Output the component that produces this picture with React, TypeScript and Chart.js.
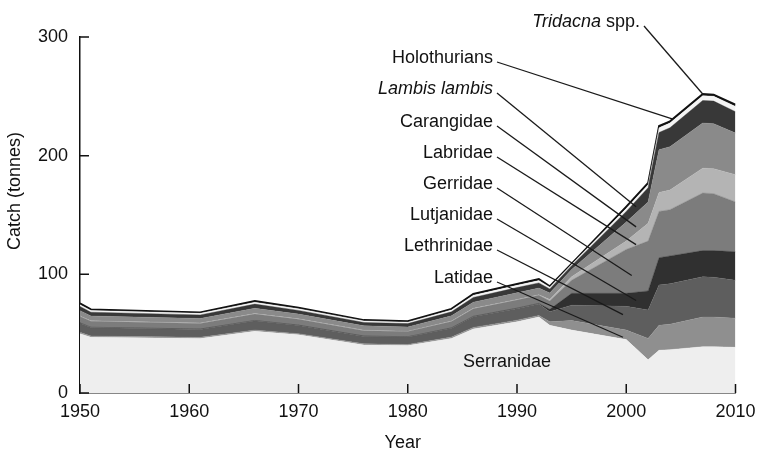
import React, { useEffect, useRef } from 'react';
import { Chart, registerables } from 'chart.js';

Chart.register(...registerables);

// ---- data (tonnes) ----
const years = [1950, 1951, 1961, 1966, 1970, 1976, 1980, 1984, 1986, 1990, 1992, 1993, 1995, 2000, 2002, 2003, 2004, 2007, 2008, 2010];
const serranidae = [50, 47, 46, 52, 49, 40.5, 40, 46, 54, 60, 64, 57, 53, 45, 28, 36, 36.5, 39, 39, 38.5];
const latidae = [1.1, 1, 0.9, 1.1, 1, 0.9, 0.9, 1.1, 1.3, 1.4, 1.4, 3, 8, 8, 18, 21, 21.5, 25, 25, 24.5];
const lethrinidae = [7.7, 7.1, 6.7, 7.7, 6.9, 6.3, 6.2, 7.5, 8.9, 9.7, 9.7, 8.5, 13, 20, 24, 34, 34, 34, 33.5, 32];
const lutjanidae = [0.3, 0.3, 0.3, 0.3, 0.3, 0.3, 0.3, 0.3, 0.4, 0.4, 0.4, 2, 10, 11, 16, 23, 23.5, 22, 22.5, 24];
const gerridae = [5.4, 5, 4.7, 5.4, 4.9, 4.5, 4.4, 5.3, 6.3, 6.8, 6.8, 7, 11, 37, 42, 39, 39, 48.5, 48, 42];
const labridae = [0.4, 0.4, 0.4, 0.4, 0.4, 0.4, 0.3, 0.4, 0.5, 0.5, 0.5, 1.3, 3, 7, 15, 16, 16.5, 21, 21, 23];
const carangidae = [4.5, 4.1, 3.8, 4.5, 4, 3.7, 3.6, 4.4, 5.1, 5.6, 5.6, 5.5, 6, 16, 18, 36, 36.5, 38, 38, 35];
const lambisLambis = [3.5, 3.2, 3, 3.5, 3.1, 2.8, 2.8, 3.4, 4, 4.4, 4.4, 3.4, 3.3, 9, 12, 14.5, 16, 19, 19, 18];
const holothurians = [1.5, 1.4, 1.3, 1.5, 1.4, 1.3, 1.2, 1.5, 1.8, 1.9, 1.9, 1.5, 1.1, 2.5, 2.5, 4, 4, 4, 4, 4.5];
const tridacna = [1.1, 1, 0.9, 1.1, 1, 0.8, 0.8, 1.1, 1.2, 1.3, 1.3, 0.8, 0.6, 1.5, 1.5, 1.5, 1.5, 1.5, 1.5, 1.5];

const seriesNames = ['Serranidae', 'Latidae', 'Lethrinidae', 'Lutjanidae', 'Gerridae', 'Labridae', 'Carangidae', 'Lambis lambis', 'Holothurians', 'Tridacna spp.'];
const seriesValues = [serranidae, latidae, lethrinidae, lutjanidae, gerridae, labridae, carangidae, lambisLambis, holothurians, tridacna];

const xTicks = [1950, 1960, 1970, 1980, 1990, 2000, 2010];
const yTicks = [0, 100, 200, 300];

// annotation labels and where their leader lines point (data coordinates)
const annotLabels = ['Tridacna spp.', 'Holothurians', 'Lambis lambis', 'Carangidae', 'Labridae', 'Gerridae', 'Lutjanidae', 'Lethrinidae', 'Latidae'];
const annotTargetYear = [2007, 2004.2, 2000.9, 2000.9, 2000.9, 2000.5, 2000.9, 1999.7, 1999.7];
const annotTargetValue = [252, 231, 157, 140, 125, 99, 78, 66, 47];

// ---- styles / layout ----
const FONT = '"Liberation Sans", Arial, Helvetica, sans-serif';
const colors = ['#eeeeee', '#8f8f8f', '#5e5e5e', '#303030', '#7c7c7c', '#b4b4b4', '#8a8a8a', '#383838', '#f4f4f4', '#141414'];
const labelBaselines = [27, 63, 94, 127, 158, 189, 220, 251, 283];
const labelRight = [640, 493, 493, 493, 493, 493, 493, 493, 493];

type Seg = { t: string; i: boolean };
function segmentsFor(name: string): Seg[] {
  if (name === 'Tridacna spp.') return [{ t: 'Tridacna', i: true }, { t: ' spp.', i: false }];
  if (name === 'Lambis lambis') return [{ t: 'Lambis lambis', i: true }];
  return [{ t: name, i: false }];
}

const overlayPlugin = {
  id: 'overlay',
  afterDraw(chart: any) {
    const ctx: CanvasRenderingContext2D = chart.ctx;
    const xs = chart.scales.x;
    const ys = chart.scales.y;
    const area = chart.chartArea;
    ctx.save();
    // inward tick marks
    ctx.strokeStyle = '#111';
    ctx.lineWidth = 1.5;
    ctx.beginPath();
    xTicks.forEach((v) => {
      const px = xs.getPixelForValue(v);
      ctx.moveTo(px, area.bottom);
      ctx.lineTo(px, area.bottom - 9);
    });
    yTicks.forEach((v) => {
      const py = ys.getPixelForValue(v);
      ctx.moveTo(area.left, py);
      ctx.lineTo(area.left + 9, py);
    });
    ctx.stroke();

    // labels + leaders
    ctx.fillStyle = '#111';
    ctx.textBaseline = 'alphabetic';
    annotLabels.forEach((name, i) => {
      const segs = segmentsFor(name);
      let total = 0;
      const widths = segs.map((s) => {
        ctx.font = `${s.i ? 'italic ' : ''}18px ${FONT}`;
        const w = ctx.measureText(s.t).width;
        total += w;
        return w;
      });
      let x = labelRight[i] - total;
      const yb = labelBaselines[i];
      segs.forEach((s, k) => {
        ctx.font = `${s.i ? 'italic ' : ''}18px ${FONT}`;
        ctx.textAlign = 'left';
        ctx.fillText(s.t, x, yb);
        x += widths[k];
      });
      const tx = xs.getPixelForValue(annotTargetYear[i]);
      const ty = ys.getPixelForValue(annotTargetValue[i]);
      ctx.beginPath();
      ctx.strokeStyle = '#1a1a1a';
      ctx.lineWidth = 1.3;
      ctx.moveTo(labelRight[i] + 4, yb - 1);
      ctx.lineTo(tx, ty);
      ctx.stroke();
    });

    // Serranidae label
    ctx.font = `18px ${FONT}`;
    ctx.textAlign = 'center';
    ctx.fillText('Serranidae', 507, 367);

    // axis titles
    ctx.fillText('Year', (area.left + area.right) / 2 - 5, 448);
    ctx.translate(15, 191);
    ctx.rotate(-Math.PI / 2);
    ctx.textBaseline = 'middle';
    ctx.fillText('Catch (tonnes)', 0, 0);
    ctx.restore();
  },
};

export default function App() {
  const ref = useRef<HTMLCanvasElement | null>(null);
  useEffect(() => {
    if (!ref.current) return;
    document.body.style.margin = '0';
    const last = seriesNames.length - 1;
    const datasets = seriesNames.map((name, i) => ({
      label: name,
      data: years.map((yr, k) => ({ x: yr, y: seriesValues[i][k] })),
      backgroundColor: colors[i],
      borderColor: i === last ? '#111' : colors[i],
      borderWidth: i === last ? 1.8 : 0.4,
      fill: i === 0 ? 'origin' : '-1',
      pointRadius: 0,
      tension: 0,
    }));
    const chart = new Chart(ref.current, {
      type: 'line',
      data: { datasets },
      options: {
        responsive: false,
        animation: false,
        devicePixelRatio: 1,
        layout: { padding: { left: 0, right: 31.5, top: 37, bottom: 19 } },
        plugins: { legend: { display: false }, tooltip: { enabled: false } },
        elements: { line: { tension: 0 } },
        scales: {
          x: {
            type: 'linear',
            min: 1950,
            max: 2010,
            grid: { display: false, drawTicks: false },
            border: { display: true, color: '#111', width: 1.5 },
            ticks: {
              stepSize: 10,
              padding: 8,
              color: '#111',
              font: { size: 18, family: FONT },
              callback: (v: any) => String(v),
            },
            afterFit: (s: any) => { s.height = 40; },
          },
          y: {
            stacked: true,
            min: 0,
            max: 300,
            grid: { display: false, drawTicks: false },
            border: { display: true, color: '#111', width: 1.5 },
            ticks: {
              stepSize: 100,
              padding: 12,
              color: '#111',
              font: { size: 18, family: FONT },
            },
            afterFit: (s: any) => { s.width = 80; },
          },
        },
      },
      plugins: [overlayPlugin],
    });
    return () => chart.destroy();
  }, []);
  return (
    <div style={{ position: 'fixed', left: 0, top: 0, width: 767, height: 452, background: '#fff' }}>
      <canvas ref={ref} width={767} height={452} style={{ display: 'block' }} />
    </div>
  );
}
